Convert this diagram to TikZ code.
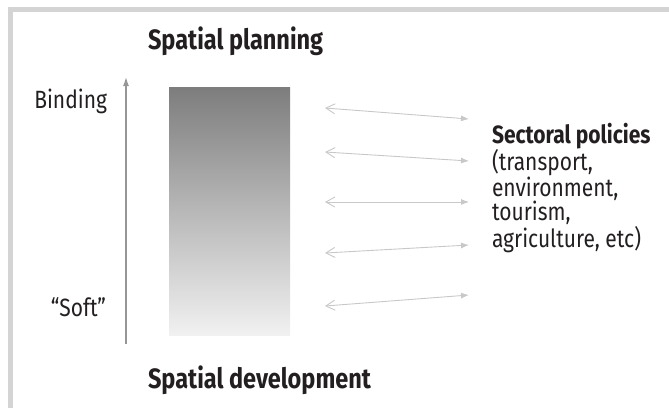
\documentclass[tikz,border=0pt]{standalone}
\usepackage{fontspec}
\setmainfont[FakeStretch=0.84]{Fira Sans}
\usepackage{tikz}
\usetikzlibrary{arrows.meta,positioning,calc}

\definecolor{framegray}{RGB}{212,212,212}
\definecolor{axisgray}{RGB}{150,150,150}
\definecolor{linkgray}{RGB}{200,200,200}
\definecolor{topgray}{RGB}{125,125,125}
\definecolor{botgray}{RGB}{240,241,240}
\definecolor{txt}{RGB}{35,31,32}

\begin{document}
\begin{tikzpicture}[x=1pt,y=-1pt,
        label/.style={inner sep=0pt,outer sep=0pt,text=txt,font=\fontsize{25}{24}\selectfont},
        heading/.style={label,font=\fontsize{28}{30}\selectfont\bfseries},
        link/.style={draw=linkgray,line width=0.9pt,
            {Straight Barb[length=9pt,width=10pt]}-{Latex[length=8pt,width=6pt]}}]
   \useasboundingbox (0,0) rectangle (669,408);
   % frame
   \draw[framegray,line width=4.5pt] (669,9.5) -- (10.5,9.5) -- (10.5,408);

   % gradient bar
   \node (grad) [rectangle,inner sep=0pt,minimum width=121pt,minimum height=248pt,
        top color=topgray,bottom color=botgray,middle color=black!28] at (229.5,211) {};

   \node (title) [heading,anchor=base west] at (148,49) {Spatial planning};
   \node (devt) [heading,anchor=base west] at (148,388) {Spatial development};
   \node (bind) [label,anchor=base east] at (107,108) {Binding};
   \node (soft) [label,anchor=base east] at (106,316) {“Soft”};

   % scale axis
   \coordinate (axb) at (126,344);
   \coordinate (axt) at (126,77);
   \draw[axisgray,line width=1.2pt,-{Latex[length=9pt,width=6pt]}] (axb) -- (axt);

   \node (sect) [label,align=left,text depth=0pt,anchor=south west] at (492,247)
        {\textbf{Sectoral policies}\\(transport,\\environment,\\tourism,\\agriculture, etc)};

   % links
   \coordinate (l1) at (325,108); \coordinate (r1) at (469,119);
   \coordinate (l2) at (325,152); \coordinate (r2) at (469,161);
   \coordinate (l3) at (325,202); \coordinate (r3) at (469,202);
   \coordinate (l4) at (325,253); \coordinate (r4) at (469,245);
   \coordinate (l5) at (325,306); \coordinate (r5) at (469,295);
   \draw[link] (l1) -- (r1);
   \draw[link] (l2) -- (r2);
   \draw[link] (l3) -- (r3);
   \draw[link] (l4) -- (r4);
   \draw[link] (l5) -- (r5);

\end{tikzpicture}
\end{document}
